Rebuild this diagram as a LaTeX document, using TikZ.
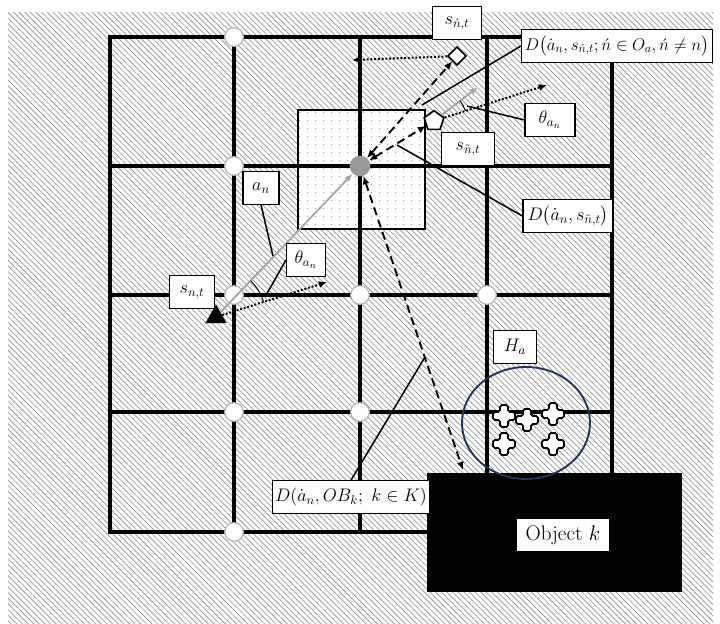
\RequirePackage{fix-cm}
\documentclass[tikz,border=0pt]{standalone}
\usepackage{amsmath}
\usepackage{xcolor}
\usepackage{tikz}
\usetikzlibrary{arrows.meta, positioning, shapes.geometric, calc, patterns.meta}

\definecolor{ringblue}{RGB}{31,52,96}

\tikzdeclarepattern{
  name=cellDots, type=uncolored,
  bounding box={(0,0) and (6.5pt,6.5pt)},
  tile size={(6.5pt,6.5pt)},
  code={\fill (3.25pt,3.25pt) circle (0.5pt);}
}

\begin{document}
\begin{tikzpicture}[
      x=0.03cm, y=-0.03cm,
      lbl/.style={draw, fill=white, line width=0.9pt, minimum height=0.98cm, inner sep=2pt,
        font=\fontsize{15.5}{18}\selectfont},
      gridline/.style={line width=3pt, line cap=rect},
      vertex/.style={circle, draw=gray!60, line width=1pt, fill=white, minimum size=0.56cm, inner sep=0pt},
      hub/.style={circle, fill=gray!80, minimum size=0.62cm, inner sep=0pt},
      lead/.style={line width=1.3pt},
      move/.style={draw=gray!70, line width=1.6pt, -{Latex[length=7pt,width=5.5pt]}},
      look/.style={line width=1.7pt, dash pattern=on 1.6pt off 1.6pt, -{Latex[length=7pt,width=6pt]}},
      dist/.style={line width=1.6pt, dash pattern=on 7pt off 4pt, {Latex[length=7pt,width=6pt]}-{Latex[length=7pt,width=6pt]}},
      plusmark/.pic={
        \draw[fill=white, line width=1.5pt, rounded corners=1.5pt]
          (-4,-11) -- (4,-11) -- (4,-4) -- (11,-4) -- (11,4) -- (4,4) -- (4,11)
          -- (-4,11) -- (-4,4) -- (-11,4) -- (-11,-4) -- (-4,-4) -- cycle;
      }
    ]
      \useasboundingbox (0,0) rectangle (720,624);
      \fill[pattern={Lines[angle=-45, distance=3.4pt, line width=0.55pt]}, pattern color=gray!90]
        (8,13) rectangle (713,624);

      \fill[white] (298,110) rectangle (425,229);
      \fill[pattern=cellDots, pattern color=gray!90] (298,110) rectangle (425,229);

      \foreach \y/\xe in {37/612, 166/612, 295/612, 412/612, 532/427}
        \draw[gridline] (110,\y) -- (\xe,\y);
      \foreach \x/\ye in {110/532, 234/532, 360/532, 487/473, 612/473}
        \draw[gridline] (\x,37) -- (\x,\ye);
      \draw[line width=1.8pt] (298,110) rectangle (425,229);

      \node[fill=black, minimum width=7.65cm, minimum height=3.57cm, inner sep=0pt] (obj) at (554.5,532.5) {};
      \node[ellipse, draw=ringblue, line width=1.6pt, minimum width=3.84cm, minimum height=3.36cm] (zone) at (526,423) {};
      \foreach \x/\y in {504/416, 527/420, 553/414, 504/444, 553/444}
        \pic at (\x,\y) {plusmark};

      \foreach \x/\y [count=\i] in {234/37, 234/166, 234/295, 360/295, 487/295, 234/412, 360/412, 234/532}
        \node[vertex] (v\i) at (\x,\y) {};
      \node[hub] (hub) at (360,166) {};

      \node[regular polygon, regular polygon sides=3, fill=black, minimum size=0.74cm, inner sep=0pt] (agent) at (216,317) {};
      \node[regular polygon, regular polygon sides=5, draw, fill=white, line width=1.4pt, minimum size=0.62cm, inner sep=0pt] (pent) at (434,121) {};
      \node[diamond, draw, fill=white, line width=1.4pt, minimum width=0.56cm, minimum height=0.56cm, inner sep=0pt] (diam) at (457,56) {};

      \coordinate (agentLook) at (327,282);
      \coordinate (pentHead) at (478,87);
      \coordinate (pentLook) at (547,85);
      \coordinate (diamLook) at (352,60);
      \coordinate (objTop) at (463,470);

      \draw[move] (agent) -- (hub);
      \draw[move] (pent) -- (pentHead);
      \draw[look] (agent) -- (agentLook);
      \draw[look] (pent) -- (pentLook);
      \draw[look] (diam) -- (diamLook);
      \draw[dist] (hub) -- (diam);
      \draw[dist] (hub) -- (pent);
      \draw[dist] (hub) -- (objTop);

      \draw[line width=0.8pt] ($(agent)+(-18:50)$) arc[start angle=-18, end angle=-46.5, radius=50];
      \draw[line width=0.8pt] ($(pent)+(-17.7:33)$) arc[start angle=-17.7, end angle=-37.7, radius=33];

      \node[lbl, minimum width=1.47cm] (sNp) at (457,23) {$s_{\acute n,t}$};
      \node[lbl, minimum width=5.73cm, font=\fontsize{14.5}{17}\selectfont] (Dtop) at (617,46) {$D\big(\dot a_n, s_{\acute n,t}; \acute n\in O_a, \acute n\neq n\big)$};
      \node[lbl, minimum width=1.5cm] (thR) at (550,120) {$\theta_{a_n}$};
      \node[lbl, minimum width=1.59cm] (sNt) at (468,149) {$s_{\tilde n,t}$};
      \node[lbl, minimum width=2.7cm] (Dmid) at (568,216) {$D\big(\dot a_n, s_{\tilde n,t}\big)$};
      \node[lbl, minimum width=1.08cm] (aN) at (261,188) {$a_n$};
      \node[lbl, minimum width=1.17cm] (thL) at (306,260) {$\theta_{a_n}$};
      \node[lbl, minimum width=1.35cm] (sn) at (192,292) {$s_{n,t}$};
      \node[lbl, minimum width=1.29cm] (Ha) at (515,347) {$H_a$};
      \node[lbl, minimum width=4.68cm] (Dob) at (351,497) {$D(\dot a_n, OB_k;\ k\in K)$};
      \node[lbl, minimum width=2.79cm, font=\fontsize{18}{21}\selectfont] (objName) at (563,535) {Object $k$};

      \coordinate (aNtip) at (273,256);
      \coordinate (thLtip) at (265,297);
      \coordinate (thRtip) at (467,106);
      \coordinate (Dtoptip) at (422,105);
      \coordinate (Dmidtip) at (397,145);
      \coordinate (Dobtip) at (425,357);

      \draw[lead] (aN.south) -- (aNtip);
      \draw[lead] (thL.west) -- (thLtip);
      \draw[lead] (thR.west) -- (thRtip);
      \draw[lead] (Dtop.west) -- (Dtoptip);
      \draw[lead] (Dmid.west) -- (Dmidtip);
      \draw[lead] (Dob.north) -- (Dobtip);
    \end{tikzpicture}
\end{document}
